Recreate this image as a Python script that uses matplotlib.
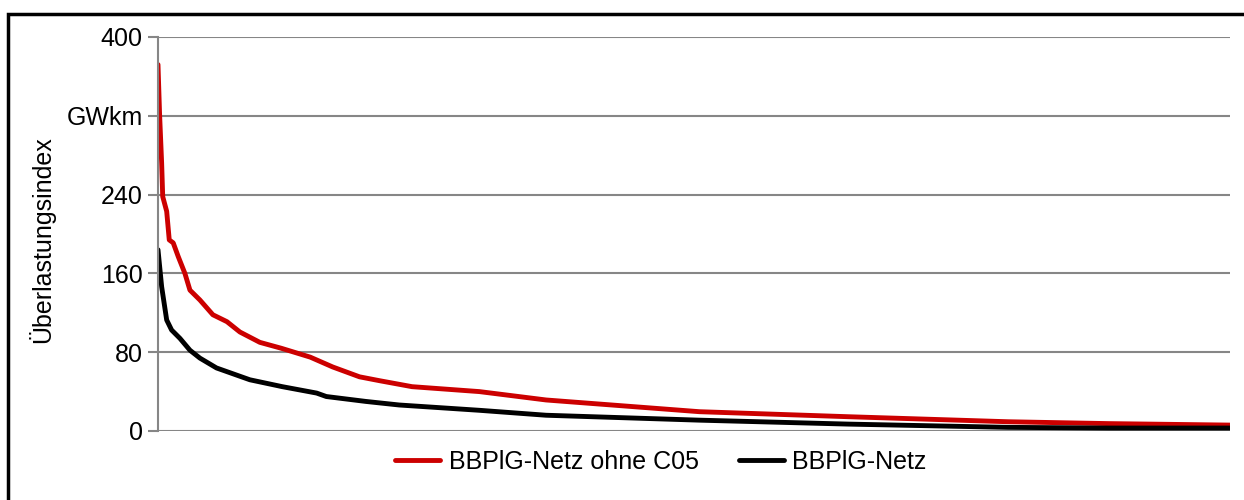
import matplotlib.pyplot as plt
from matplotlib.patches import Rectangle

# Dauerlinie: Anteil der Zeit in % (x-Achse ohne Beschriftung)
x_rot = [0.0, 0.15, 0.34, 0.44, 0.81, 1.05, 1.42, 1.89, 2.51, 2.98, 3.91, 5.12,
         6.43, 7.64, 9.5, 11.5, 14.2, 16.3, 18.8, 20.7, 23.7, 29.98, 36.2,
         50.5, 64.4, 79.3, 88.7, 100.0]
y_rot = [372, 321, 272, 238, 223, 194, 191, 177, 160, 143, 133, 118,
         111, 100.5, 90, 84, 75, 65, 55, 51, 45, 40, 31.5,
         19.6, 14.5, 9.4, 7.5, 6]

x_schwarz = [0.0, 0.34, 0.81, 1.27, 2.05, 2.98, 3.91, 5.46, 8.57, 11.6, 14.8,
             15.7, 19.4, 22.5, 30.0, 36.2, 50.5, 64.4, 79.3, 88.7, 100.0]
y_schwarz = [184, 146.5, 112.7, 102.5, 94, 82, 74, 64, 52, 45, 38.5,
             35, 30, 26.4, 21, 16, 11, 7, 3.7, 3, 3]

y_ticks = [0, 80, 160, 240, 320, 400]
y_ticklabels = ["0", "80", "160", "240", "GWkm", "400"]
namen = ["BBPlG-Netz ohne C05", "BBPlG-Netz"]

plt.rcParams['font.family'] = ['Liberation Sans', 'DejaVu Sans']

fig = plt.figure(figsize=(12.44, 5), dpi=100)
ax = fig.add_axes([158 / 1244, 69 / 500, (1230 - 158) / 1244, 394 / 500])

grau = "#868686"
ax.plot(x_rot, y_rot, color="#cc0000", lw=3.5, label=namen[0],
        solid_joinstyle="round", solid_capstyle="round")
ax.plot(x_schwarz, y_schwarz, color="black", lw=3.5, label=namen[1],
        solid_joinstyle="round", solid_capstyle="round")

ax.set_xlim(0, 100)
ax.set_ylim(0, 400)
ax.set_xticks([])
ax.set_yticks(y_ticks)
ax.set_yticklabels(y_ticklabels, fontsize=18)
ax.tick_params(axis="y", length=7, width=1.5, color=grau, pad=4)
ax.yaxis.grid(True, color=grau, lw=1.5)
ax.set_axisbelow(True)
for s in ["top", "right", "bottom"]:
    ax.spines[s].set_visible(False)
ax.spines["left"].set_color(grau)
ax.spines["left"].set_linewidth(1.5)

fig.text(42 / 1244, 0.52, "Überlastungsindex", rotation=90,
         fontsize=18, ha="center", va="center")

ax.legend(loc="center", bbox_to_anchor=(0.469, -0.079), ncol=2, frameon=False,
          fontsize=18, handlelength=1.8, handletextpad=0.35, columnspacing=1.6)

# Rahmen um das Diagramm (rechts/unten abgeschnitten)
fig.patches.append(Rectangle((8 / 1244, -0.1), 1.2, 1.1 - 14 / 500,
                             transform=fig.transFigure, fill=False,
                             edgecolor="black", lw=2.5, clip_on=False))

fig.savefig("out.png", dpi=100)
